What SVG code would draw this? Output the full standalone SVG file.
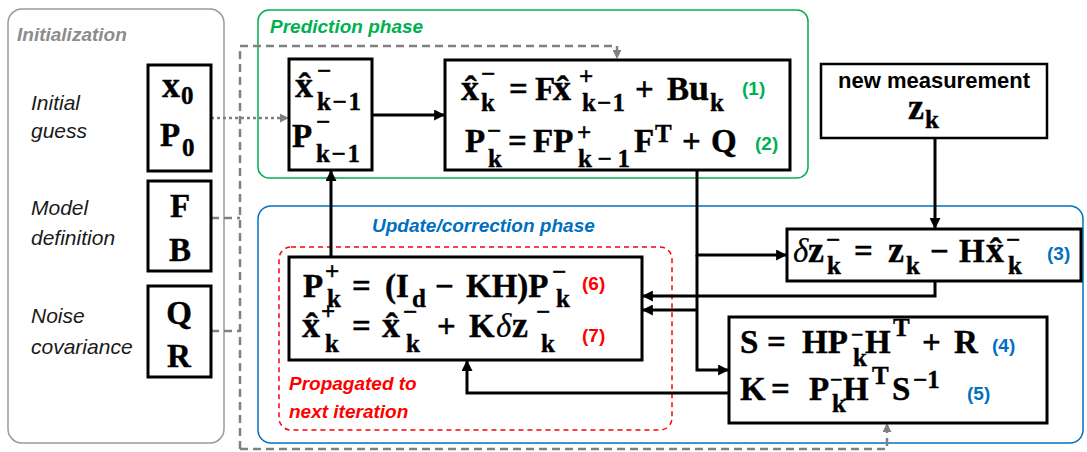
<svg xmlns="http://www.w3.org/2000/svg" width="1087" height="452" viewBox="0 0 1087 452">
<style>
.m{font-family:"Liberation Serif","Times New Roman",serif;font-weight:bold;font-size:33px;fill:#000;stroke:#000;stroke-width:0.4}
.l{font-size:36px}
.s{font-size:25px}
.d{font-style:italic;font-weight:normal;stroke-width:0.2}
.lbl{font-family:"Liberation Sans",Arial,sans-serif;font-style:italic;font-size:21px;fill:#1a1a1a}
.ttl{font-family:"Liberation Sans",Arial,sans-serif;font-style:italic;font-weight:bold;font-size:19px}
.num{font-family:"Liberation Sans",Arial,sans-serif;font-weight:bold;font-size:19px}
.box{fill:#fff;stroke:#000;stroke-width:3}
.wire{fill:none;stroke:#000;stroke-width:3}
.gdash{fill:none;stroke:#808080;stroke-width:2.5;stroke-dasharray:8 5}
.gdot{fill:none;stroke:#808080;stroke-width:2.5;stroke-dasharray:3 3}
</style>
<defs>
<marker id="ah" viewBox="0 0 10 10" refX="9" refY="5" markerWidth="11" markerHeight="11" markerUnits="userSpaceOnUse" orient="auto"><path d="M0,0 L10,5 L0,10 z" fill="#000"/></marker>
<marker id="gh" viewBox="0 0 10 10" refX="9" refY="5" markerWidth="9" markerHeight="9" markerUnits="userSpaceOnUse" orient="auto"><path d="M0,0 L10,5 L0,10 z" fill="#808080"/></marker>
</defs>
<rect width="1087" height="452" fill="#fff"/>

<g id="initialization">
<rect x="8" y="9" width="216" height="434" rx="14" fill="none" stroke="#9a9a9a" stroke-width="1.5"/>
<text class="ttl" x="17" y="41" fill="#8c8c8c">Initialization</text>
<text class="lbl" x="31" y="110">Initial</text>
<text class="lbl" x="31" y="138">guess</text>
<text class="lbl" x="31" y="215">Model</text>
<text class="lbl" x="31" y="245">definition</text>
<text class="lbl" x="31" y="323">Noise</text>
<text class="lbl" x="31" y="354">covariance</text>
</g>

<g id="phases">
<rect id="prediction-phase" x="258" y="10" width="550" height="168" rx="11" fill="none" stroke="#00b050" stroke-width="1.5"/>
<text class="ttl" x="270" y="33" fill="#00b050">Prediction phase</text>
<rect id="update-phase" x="258" y="206" width="825" height="237" rx="13" fill="none" stroke="#0070c0" stroke-width="1.5"/>
<text class="ttl" x="372" y="232" fill="#0070c0">Update/correction phase</text>
<rect id="propagated" x="279" y="247" width="393" height="183" rx="12" fill="none" stroke="#ff0000" stroke-width="1.5" stroke-dasharray="5 4"/>
<text class="ttl" x="289" y="390" fill="#ff0000">Propagated to</text>
<text class="ttl" x="289" y="418" fill="#ff0000">next iteration</text>
</g>

<g id="connectors">
<path class="wire" d="M372,115 H444" marker-end="url(#ah)"/>
<path class="wire" d="M697,170 V255 H786" marker-end="url(#ah)"/>
<path class="wire" d="M697,255 V370 H728" marker-end="url(#ah)"/>
<path class="wire" d="M935,138 V228" marker-end="url(#ah)"/>
<path class="wire" d="M935,281 V296 H643" marker-end="url(#ah)"/>
<path class="wire" d="M697,310 H643" marker-end="url(#ah)"/>
<path class="wire" d="M729,393 H467 V361" marker-end="url(#ah)"/>
<path class="wire" d="M331,257 V171" marker-end="url(#ah)"/>
<path class="gdot" d="M211,118 H288" marker-end="url(#gh)"/>
<path class="gdash" d="M211,218 H240"/>
<path class="gdash" d="M211,331 H240"/>
<path class="gdash" d="M240,449 V46"/>
<path class="gdash" d="M240,46 H617 V58" marker-end="url(#gh)"/>
<path class="gdash" d="M240,449 H887 V424" marker-end="url(#gh)"/>
</g>

<g id="init-guess">
<rect class="box" x="148" y="65" width="63" height="106"/>
<text class="m"><tspan class="l" x="162" y="97">x</tspan><tspan class="s" x="181" y="104">0</tspan></text>
<text class="m"><tspan x="160" y="146">P</tspan><tspan class="s" x="182" y="156">0</tspan></text>
</g>
<g id="model-def">
<rect class="box" x="148" y="181" width="63" height="90"/>
<text class="m" x="180" y="217" text-anchor="middle">F</text>
<text class="m" x="180" y="261" text-anchor="middle">B</text>
</g>
<g id="noise-cov">
<rect class="box" x="148" y="286" width="63" height="91"/>
<text class="m" x="179" y="324" text-anchor="middle">Q</text>
<text class="m" x="179" y="367" text-anchor="middle">R</text>
</g>

<g id="prev-state">
<rect class="box" x="289" y="59" width="83" height="111"/>
<text class="m"><tspan class="l" x="295" y="97">x&#x302;</tspan><tspan class="s" x="317" y="79">−</tspan><tspan class="s" x="317" y="110" textLength="44" lengthAdjust="spacing">k−1</tspan></text>
<text class="m"><tspan x="292" y="147">P</tspan><tspan class="s" x="316" y="130">−</tspan><tspan class="s" x="316" y="162" textLength="44" lengthAdjust="spacing">k−1</tspan></text>
</g>

<g id="prediction-eqs">
<rect class="box" x="445" y="60" width="345" height="110"/>
<text class="m"><tspan class="l" x="461" y="100">x&#x302;</tspan><tspan class="s" x="481" y="82">−</tspan><tspan class="s" x="481" y="111">k</tspan><tspan x="509" y="100">=</tspan><tspan x="535" y="100">F</tspan><tspan class="l" x="553" y="100">x&#x302;</tspan><tspan class="s" x="579" y="85">+</tspan><tspan class="s" x="582" y="111" textLength="43" lengthAdjust="spacing">k−1</tspan><tspan x="635" y="100">+</tspan><tspan x="667" y="100">B</tspan><tspan class="l" x="689" y="100">u</tspan><tspan class="s" x="710" y="111">k</tspan></text>
<text class="num" x="742" y="95" fill="#00b050">(1)</text>
<text class="m"><tspan x="465" y="152">P</tspan><tspan class="s" x="487" y="139">−</tspan><tspan class="s" x="488" y="167">k</tspan><tspan x="508" y="152">=</tspan><tspan x="533" y="152">FP</tspan><tspan class="s" x="577" y="141">+</tspan><tspan class="s" x="578" y="167" textLength="52" lengthAdjust="spacing">k−1</tspan><tspan x="634" y="152">F</tspan><tspan class="s" x="655" y="142">T</tspan><tspan x="682" y="152">+</tspan><tspan x="711" y="152">Q</tspan></text>
<text class="num" x="755" y="150" fill="#00b050">(2)</text>
</g>

<g id="measurement">
<rect class="box" x="821" y="64" width="226" height="74" style="stroke-width:2.5"/>
<text x="934" y="88" text-anchor="middle" style="font-family:'Liberation Sans',Arial,sans-serif;font-weight:bold;font-size:22px">new measurement</text>
<text class="m"><tspan class="l" x="908" y="119">z</tspan><tspan class="s" x="925" y="128">k</tspan></text>
</g>

<g id="innovation">
<rect class="box" x="787" y="229" width="294" height="52"/>
<text class="m"><tspan class="d" x="793" y="262">δ</tspan><tspan class="l" x="808" y="262">z</tspan><tspan class="s" x="826" y="248">−</tspan><tspan class="s" x="827" y="274">k</tspan><tspan x="854" y="262">=</tspan><tspan class="l" x="888" y="262">z</tspan><tspan class="s" x="906" y="274">k</tspan><tspan x="930" y="262">−</tspan><tspan x="959" y="262">H</tspan><tspan class="l" x="986" y="262">x&#x302;</tspan><tspan class="s" x="1006" y="248">−</tspan><tspan class="s" x="1008" y="274">k</tspan></text>
<text class="num" x="1047" y="260" fill="#0070c0">(3)</text>
</g>

<g id="gain">
<rect class="box" x="729" y="317" width="318" height="106"/>
<text class="m"><tspan x="740" y="353">S</tspan><tspan x="767" y="353">=</tspan><tspan x="802" y="353">HP</tspan><tspan class="s" x="851" y="342" style="font-size:22px">−</tspan><tspan class="s" x="853" y="366">k</tspan><tspan x="865" y="353">H</tspan><tspan class="s" x="893" y="336">T</tspan><tspan x="922" y="353">+</tspan><tspan x="954" y="353">R</tspan></text>
<text class="num" x="992" y="352" fill="#0070c0">(4)</text>
<text class="m"><tspan x="740" y="400">K</tspan><tspan x="771" y="400">=</tspan><tspan x="809" y="400">P</tspan><tspan class="s" x="830" y="387" style="font-size:22px">−</tspan><tspan class="s" x="832" y="412">k</tspan><tspan x="843" y="400">H</tspan><tspan class="s" x="872" y="384">T</tspan><tspan x="892" y="400">S</tspan><tspan class="s" x="913" y="388">−1</tspan></text>
<text class="num" x="967" y="400" fill="#0070c0">(5)</text>
</g>

<g id="update-eqs">
<rect class="box" x="289" y="257" width="353" height="103"/>
<text class="m"><tspan x="303" y="297">P</tspan><tspan class="s" x="325" y="280">+</tspan><tspan class="s" x="327" y="307">k</tspan><tspan x="352" y="297">=</tspan><tspan x="385" y="297">(I</tspan><tspan class="s" x="412" y="307">d</tspan><tspan x="435" y="297">−</tspan><tspan x="466" y="297">KH)P</tspan><tspan class="s" x="552" y="280">−</tspan><tspan class="s" x="556" y="307">k</tspan></text>
<text class="num" x="582" y="290" fill="#ff0000">(6)</text>
<text class="m"><tspan class="l" x="302" y="337">x&#x302;</tspan><tspan class="s" x="321" y="320">+</tspan><tspan class="s" x="325" y="352">k</tspan><tspan x="352" y="337">=</tspan><tspan class="l" x="382" y="337">x&#x302;</tspan><tspan class="s" x="403" y="320">−</tspan><tspan class="s" x="406" y="352">k</tspan><tspan x="437" y="337">+</tspan><tspan x="469" y="337">K</tspan><tspan class="d" x="496" y="337">δ</tspan><tspan class="l" x="512" y="337">z</tspan><tspan class="s" x="536" y="320">−</tspan><tspan class="s" x="541" y="352">k</tspan></text>
<text class="num" x="582" y="342" fill="#ff0000">(7)</text>
</g>
</svg>
